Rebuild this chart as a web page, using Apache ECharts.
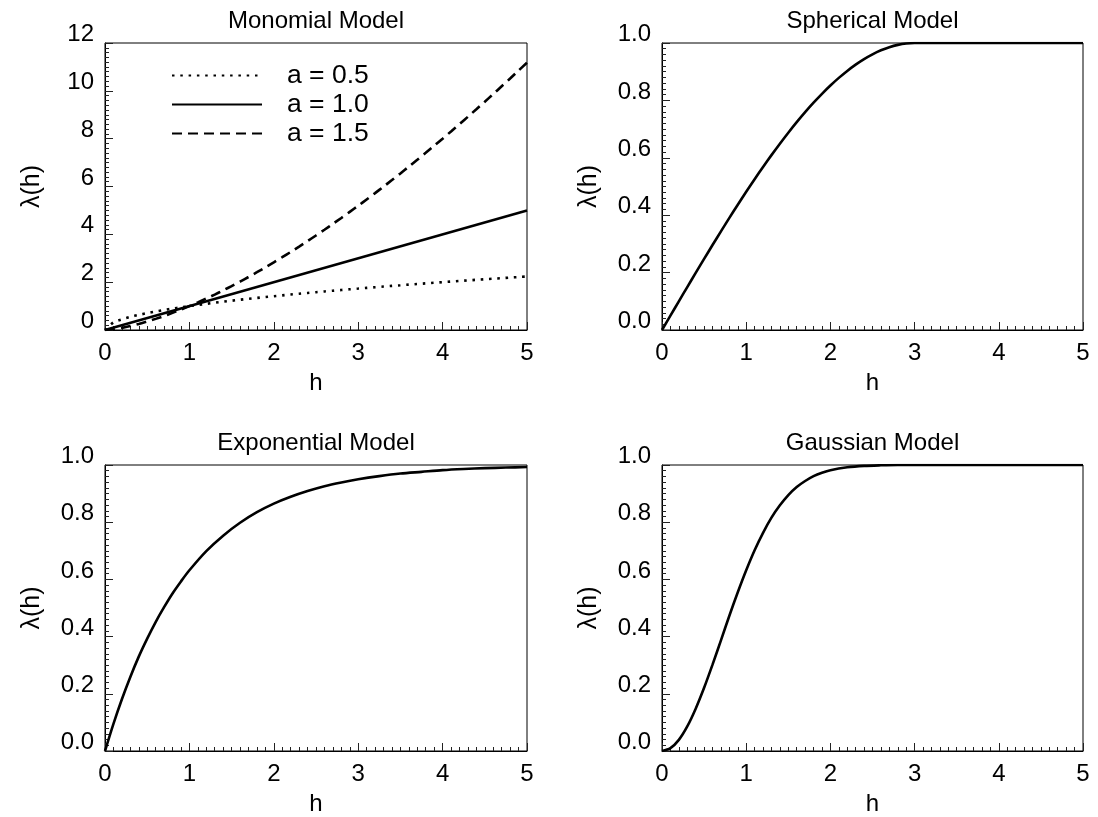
<!DOCTYPE html>
<html>
<head>
<meta charset="utf-8">
<title>Variogram models</title>
<script src="https://cdn.jsdelivr.net/npm/echarts@6/dist/echarts.min.js"></script>
<style>
  html, body { margin: 0; padding: 0; background: #fff; }
  #chart { width: 1098px; height: 817px; }
</style>
</head>
<body>
<div id="chart"></div>
<script>
// ---- data -------------------------------------------------------------
// lag distances h
const hFine = [0,0.1,0.2,0.3,0.4,0.5,0.6,0.7,0.8,0.9,1,1.1,1.2,1.3,1.4,1.5,1.6,1.7,1.8,1.9,2,
  2.1,2.2,2.3,2.4,2.5,2.6,2.7,2.8,2.9,3,3.1,3.2,3.3,3.4,3.5,3.6,3.7,3.8,3.9,4,
  4.1,4.2,4.3,4.4,4.5,4.6,4.7,4.8,4.9,5];
const hLine = [0, 5];
const hSpherical = [0,0.1,0.2,0.3,0.4,0.5,0.6,0.7,0.8,0.9,1,1.1,1.2,1.3,1.4,1.5,1.6,1.7,1.8,1.9,2,
  2.1,2.2,2.3,2.4,2.5,2.6,2.7,2.8,2.9,3,5];
const hExponential = [0,0.1,0.2,0.3,0.4,0.5,0.6,0.7,0.8,0.9,1,1.2,1.4,1.6,1.8,2,2.2,2.4,2.6,2.8,3,
  3.25,3.5,3.75,4,4.25,4.5,4.75,5];
const hGaussian = [0,0.1,0.2,0.3,0.4,0.5,0.6,0.7,0.8,0.9,1,1.1,1.2,1.3,1.4,1.5,1.6,1.7,1.8,1.9,2,
  2.2,2.4,2.6,2.8,3,5];

// monomial model, three exponents
const monoHalf = [0,0.316,0.447,0.548,0.632,0.707,0.775,0.837,0.894,0.949,1,1.049,1.095,1.14,1.183,
  1.225,1.265,1.304,1.342,1.378,1.414,1.449,1.483,1.517,1.549,1.581,1.612,1.643,1.673,1.703,1.732,
  1.761,1.789,1.817,1.844,1.871,1.897,1.924,1.949,1.975,2,2.025,2.049,2.074,2.098,2.121,2.145,2.168,
  2.191,2.214,2.236];
const monoOne = [0, 5];
const monoOneHalf = [0,0.032,0.089,0.164,0.253,0.354,0.465,0.586,0.716,0.854,1,1.154,1.315,1.482,
  1.657,1.837,2.024,2.216,2.415,2.619,2.828,3.043,3.263,3.488,3.718,3.953,4.192,4.437,4.685,4.939,
  5.196,5.458,5.724,5.995,6.269,6.548,6.831,7.117,7.408,7.702,8,8.302,8.607,8.917,9.23,9.546,9.866,
  10.19,10.516,10.847,11.18];

// bounded models
const sphericalVals = [0,0.05,0.1,0.1495,0.1988,0.2477,0.296,0.3437,0.3905,0.4365,0.4815,0.5253,
  0.568,0.6093,0.6492,0.6875,0.7242,0.759,0.792,0.823,0.8519,0.8785,0.9028,0.9247,0.944,0.9606,
  0.9745,0.9855,0.9935,0.9984,1,1];
const exponentialVals = [0,0.095,0.181,0.259,0.33,0.393,0.451,0.503,0.551,0.593,0.632,0.699,0.753,
  0.798,0.835,0.865,0.889,0.909,0.926,0.939,0.95,0.961,0.97,0.976,0.982,0.986,0.989,0.991,0.993];
const gaussianVals = [0,0.01,0.039,0.086,0.148,0.221,0.302,0.387,0.473,0.555,0.632,0.702,0.763,
  0.816,0.859,0.895,0.923,0.944,0.961,0.973,0.982,0.992,0.997,0.999,1,1,1];

// labels
const panelTitles = ['Monomial Model', 'Spherical Model', 'Exponential Model', 'Gaussian Model'];
const legendNames = ['a = 0.5', 'a = 1.0', 'a = 1.5'];
const xTickLabels = ['0', '1', '2', '3', '4', '5'];
const yTickLabelsMono = ['0', '2', '4', '6', '8', '10', '12'];
const yTickLabelsUnit = ['0.0', '0.2', '0.4', '0.6', '0.8', '1.0'];

// ---- chart ------------------------------------------------------------
const FONT = '"Liberation Sans", Arial, sans-serif';
const INK = '#000';

const zip = (xs, ys) => xs.map((x, i) => [x, ys[i]]);

const grids = [
  { left: 105, top: 43,  width: 422, height: 287 },
  { left: 662, top: 43,  width: 421, height: 287 },
  { left: 105, top: 465, width: 422, height: 287 },
  { left: 662, top: 465, width: 421, height: 287 }
];

const textBase = { fontFamily: FONT, fontSize: 24, color: INK };

function xAxisFor(i) {
  return {
    gridIndex: i, type: 'value', min: 0, max: 5, interval: 1,
    name: 'h', nameLocation: 'middle', nameGap: 41,
    nameTextStyle: Object.assign({ lineHeight: 24 }, textBase),
    axisLine: { onZero: false, lineStyle: { color: INK, width: 1 } },
    axisTick: { inside: true, length: 8, lineStyle: { color: '#222', width: 1 } },
    minorTick: { show: true, splitNumber: 10, length: 4, lineStyle: { color: '#222', width: 1 } },
    splitLine: { show: false }, minorSplitLine: { show: false },
    axisLabel: Object.assign({
      margin: 11, lineHeight: 24,
      formatter: v => xTickLabels[Math.round(v)]
    }, textBase)
  };
}

function yAxisFor(i, max, interval, labels) {
  return {
    gridIndex: i, type: 'value', min: 0, max: max, interval: interval,
    name: 'λ(h)', nameLocation: 'middle', nameGap: 60,
    nameTextStyle: Object.assign({}, textBase, { fontSize: 25, lineHeight: 25 }),
    axisLine: { onZero: false, lineStyle: { color: INK, width: 1 } },
    axisTick: { inside: true, length: 8, lineStyle: { color: '#222', width: 1 } },
    minorTick: { show: true, splitNumber: 10, length: 4, lineStyle: { color: '#222', width: 1 } },
    splitLine: { show: false }, minorSplitLine: { show: false },
    axisLabel: Object.assign({
      margin: 11, lineHeight: 17, verticalAlign: 'bottom',
      formatter: v => labels[Math.round(v / interval)]
    }, textBase)
  };
}

function curve(name, i, xs, ys, type) {
  return {
    name: name, type: 'line', xAxisIndex: i, yAxisIndex: i,
    data: zip(xs, ys), symbol: 'none', showSymbol: false,
    smooth: 0.3,
    silent: true, clip: true,
    itemStyle: { color: INK },
    lineStyle: { color: INK, width: 2.6, type: type || 'solid', cap: 'butt' }
  };
}

const option = {
  animation: false,
  backgroundColor: '#fff',
  title: grids.map((g, i) => ({
    text: panelTitles[i],
    left: g.left + g.width / 2,
    top: g.top - 34,
    textAlign: 'center',
    textVerticalAlign: 'top',
    padding: 0,
    textStyle: Object.assign({ fontWeight: 'normal', lineHeight: 24 }, textBase)
  })),
  grid: grids.map(g => Object.assign({ show: true, borderColor: INK, borderWidth: 1, containLabel: false }, g)),
  legend: {
    data: legendNames,
    orient: 'vertical',
    left: 171, top: 62,
    padding: 0,
    itemWidth: 90, itemHeight: 14, itemGap: 2,
    selectedMode: false,
    itemStyle: { opacity: 0 },
    textStyle: Object.assign({}, textBase, { fontSize: 26.5, lineHeight: 26, padding: [0, 0, 0, 20] })
  },
  xAxis: grids.map((g, i) => xAxisFor(i)),
  yAxis: [
    yAxisFor(0, 12, 2, yTickLabelsMono),
    yAxisFor(1, 1, 0.2, yTickLabelsUnit),
    yAxisFor(2, 1, 0.2, yTickLabelsUnit),
    yAxisFor(3, 1, 0.2, yTickLabelsUnit)
  ],
  series: [
    curve(legendNames[0], 0, hFine, monoHalf, [2.5, 5.8]),
    curve(legendNames[1], 0, hLine, monoOne, 'solid'),
    curve(legendNames[2], 0, hFine, monoOneHalf, [10, 6]),
    curve('Spherical', 1, hSpherical, sphericalVals),
    curve('Exponential', 2, hExponential, exponentialVals),
    curve('Gaussian', 3, hGaussian, gaussianVals)
  ]
};

const chart = echarts.init(document.getElementById('chart'));
chart.setOption(option);
</script>
</body>
</html>
